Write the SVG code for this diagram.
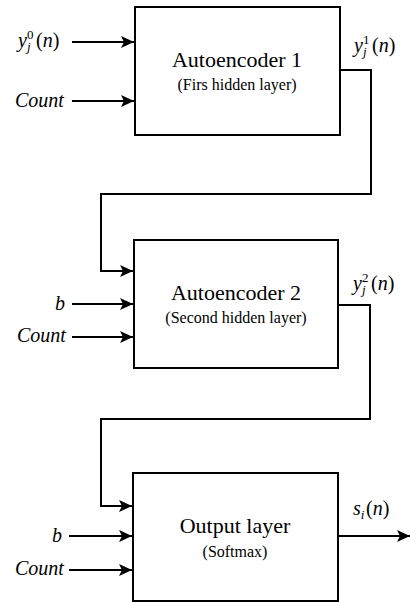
<svg xmlns="http://www.w3.org/2000/svg" width="410" height="602" viewBox="0 0 410 602" font-family="Times New Roman, Liberation Serif, serif">
<defs>
<marker id="ah" markerUnits="userSpaceOnUse" markerWidth="14" markerHeight="12" refX="13" refY="6" orient="auto">
<path d="M0,0 L13,6 L0,12 L3,6 z" fill="#000"/>
</marker>
</defs>
<g id="node-ae1">
<rect x="135" y="7" width="205" height="128" fill="#fff" stroke="#000" stroke-width="2"/>
<text style="font-family:'Times New Roman','Liberation Serif',serif !important" font-size="22" text-anchor="middle" x="237" y="67">Autoencoder 1</text>
<text style="font-family:'Times New Roman','Liberation Serif',serif !important" font-size="16" text-anchor="middle" x="237" y="90">(Firs hidden layer)</text>
</g>
<g id="node-ae2">
<rect x="134" y="240" width="204" height="128" fill="#fff" stroke="#000" stroke-width="2"/>
<text style="font-family:'Times New Roman','Liberation Serif',serif !important" font-size="22" text-anchor="middle" x="236" y="300">Autoencoder 2</text>
<text style="font-family:'Times New Roman','Liberation Serif',serif !important" font-size="16" text-anchor="middle" x="236" y="323">(Second hidden layer)</text>
</g>
<g id="node-out">
<rect x="133" y="473" width="205" height="128" fill="#fff" stroke="#000" stroke-width="2"/>
<text style="font-family:'Times New Roman','Liberation Serif',serif !important" font-size="22" text-anchor="middle" x="235" y="533">Output layer</text>
<text style="font-family:'Times New Roman','Liberation Serif',serif !important" font-size="16" text-anchor="middle" x="235" y="557">(Softmax)</text>
</g>
<g id="labels">
<text style="font-family:'Times New Roman','Liberation Serif',serif !important" font-size="20" x="18" y="47"><tspan font-style="italic">y</tspan><tspan font-size="13" dy="-8">0</tspan><tspan font-size="13" font-style="italic" x="27" dy="12">j</tspan><tspan x="36" dy="-4">(<tspan font-style="italic">n</tspan>)</tspan></text>
<text style="font-family:'Times New Roman','Liberation Serif',serif !important" font-size="20" font-style="italic" x="15" y="107">Count</text>
<text style="font-family:'Times New Roman','Liberation Serif',serif !important" font-size="20" font-style="italic" x="55" y="310">b</text>
<text style="font-family:'Times New Roman','Liberation Serif',serif !important" font-size="20" font-style="italic" x="17" y="342">Count</text>
<text style="font-family:'Times New Roman','Liberation Serif',serif !important" font-size="20" font-style="italic" x="52" y="542">b</text>
<text style="font-family:'Times New Roman','Liberation Serif',serif !important" font-size="20" font-style="italic" x="15" y="575">Count</text>
<text style="font-family:'Times New Roman','Liberation Serif',serif !important" font-size="20" x="354" y="52"><tspan font-style="italic">y</tspan><tspan font-size="13" dy="-8">1</tspan><tspan font-size="13" font-style="italic" x="363" dy="12">j</tspan><tspan x="372" dy="-4">(<tspan font-style="italic">n</tspan>)</tspan></text>
<text style="font-family:'Times New Roman','Liberation Serif',serif !important" font-size="20" x="353" y="290"><tspan font-style="italic">y</tspan><tspan font-size="13" dy="-8">2</tspan><tspan font-size="13" font-style="italic" x="362" dy="12">j</tspan><tspan x="371" dy="-4">(<tspan font-style="italic">n</tspan>)</tspan></text>
<text style="font-family:'Times New Roman','Liberation Serif',serif !important" font-size="20" x="353" y="515"><tspan font-style="italic">s</tspan><tspan font-size="13" font-style="italic" dy="4">i</tspan><tspan x="366" dy="-4">(<tspan font-style="italic">n</tspan>)</tspan></text>
</g>
<g id="connectors" fill="none" stroke="#000" stroke-width="2" marker-end="url(#ah)">
<path d="M72,42 H134"/>
<path d="M72,101 H134"/>
<path d="M340,70 H371 V194 H101 V271 H133"/>
<path d="M72,304 H133"/>
<path d="M72,337 H133"/>
<path d="M338,305 H370 V419 H101 V506 H132"/>
<path d="M69,536 H132"/>
<path d="M69,570 H132"/>
<path d="M338,536 H410"/>
</g>
</svg>
